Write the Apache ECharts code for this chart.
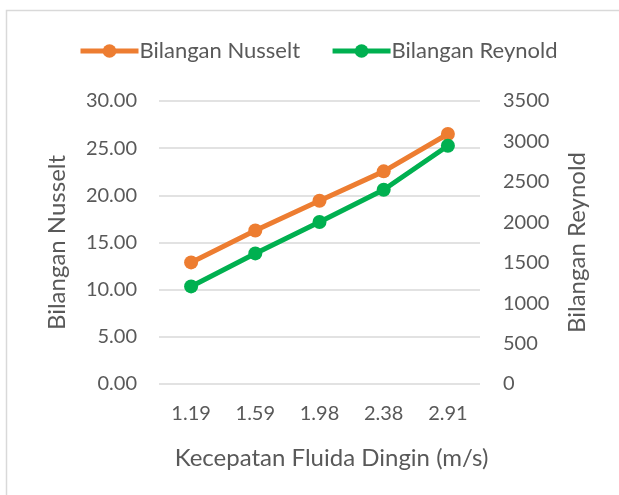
<!DOCTYPE html>
<html>
<head>
<meta charset="utf-8">
<script src="https://cdn.jsdelivr.net/npm/echarts@6/dist/echarts.min.js"></script>
<style>
  html, body { margin: 0; padding: 0; background: #ffffff; }
  #chart { width: 619px; height: 495px; }
</style>
</head>
<body>
<div id="chart"></div>
<script>
// Cold-fluid velocity (m/s) on the category axis
var velocities = ['1.19', '1.59', '1.98', '2.38', '2.91'];
// Nusselt number (left axis)
var nusselt = [12.89, 16.28, 19.43, 22.54, 26.5];
// Reynolds number (right axis)
var reynolds = [1207, 1615, 2003, 2403, 2947];

var FONT = 'Lato';
var TEXT = '#595959';

var chart = echarts.init(document.getElementById('chart'));
chart.setOption({
  backgroundColor: '#ffffff',
  animation: false,
  textStyle: { fontFamily: FONT, color: TEXT },
  graphic: [{
    type: 'rect',
    shape: { x: 6.5, y: 10.5, width: 700, height: 600 },
    style: { fill: 'none', stroke: '#d9d9d9', lineWidth: 1.5 },
    silent: true
  }],
  legend: {
    top: 40,
    left: 78,
    padding: 0,
    itemWidth: 58,
    itemHeight: 17,
    itemGap: 30,
    lineStyle: { width: 5 },
    textStyle: { fontFamily: FONT, fontSize: 22, color: TEXT, padding: [0, 0, 0, -4] },
    data: ['Bilangan Nusselt', 'Bilangan Reynold']
  },
  grid: { left: 159, right: 139, top: 101, bottom: 111, containLabel: false },
  xAxis: {
    type: 'category',
    data: velocities,
    boundaryGap: true,
    name: 'Kecepatan Fluida Dingin (m/s)',
    nameLocation: 'middle',
    nameGap: 62,
    nameTextStyle: { fontFamily: FONT, fontSize: 24, color: TEXT, padding: [0, 0, 0, 24] },
    axisLine: { show: false },
    axisTick: { show: false },
    axisLabel: { fontFamily: FONT, fontSize: 20, color: TEXT, margin: 20 }
  },
  yAxis: [{
    type: 'value',
    min: 0, max: 30, interval: 5,
    name: 'Bilangan Nusselt',
    nameLocation: 'middle',
    nameGap: 90,
    nameTextStyle: { fontFamily: FONT, fontSize: 24, color: TEXT },
    axisLine: { show: false },
    axisTick: { show: false },
    axisLabel: {
      fontFamily: FONT, fontSize: 20, color: TEXT, margin: 22,
      formatter: function (v) { return v.toFixed(2); }
    },
    splitLine: { lineStyle: { color: '#d9d9d9', width: 1.5 } }
  }, {
    type: 'value',
    min: 0, max: 3500, interval: 500,
    name: 'Bilangan Reynold',
    nameLocation: 'middle',
    nameGap: 85,
    nameRotate: 90,
    nameTextStyle: { fontFamily: FONT, fontSize: 24, color: TEXT },
    axisLine: { show: false },
    axisTick: { show: false },
    axisLabel: {
      fontFamily: FONT, fontSize: 20, color: TEXT, margin: 23,
      formatter: function (v) { return String(v); }
    },
    splitLine: { show: false }
  }],
  series: [{
    name: 'Bilangan Nusselt',
    type: 'line',
    yAxisIndex: 0,
    data: nusselt,
    symbol: 'circle',
    symbolSize: 14,
    itemStyle: { color: '#ED7D31' },
    lineStyle: { color: '#ED7D31', width: 5 },
    z: 3
  }, {
    name: 'Bilangan Reynold',
    type: 'line',
    yAxisIndex: 1,
    data: reynolds,
    symbol: 'circle',
    symbolSize: 14,
    itemStyle: { color: '#00B050' },
    lineStyle: { color: '#00B050', width: 5 },
    z: 4
  }]
});
</script>
</body>
</html>
